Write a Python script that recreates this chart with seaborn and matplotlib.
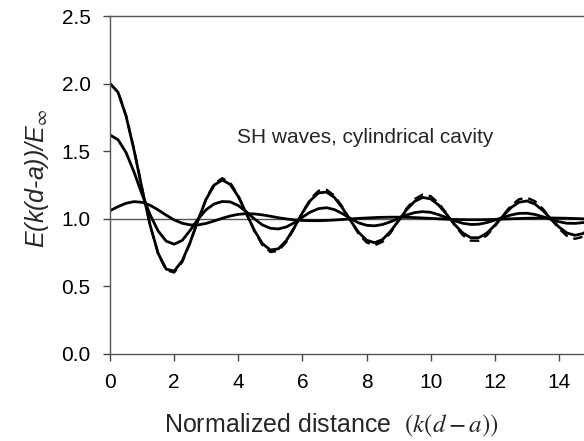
import matplotlib
matplotlib.use("Agg")
import matplotlib.pyplot as plt
import numpy as np
import pandas as pd
import seaborn as sns

sns.set_style("ticks")
plt.rcParams['font.family'] = ['Liberation Sans', 'DejaVu Sans']
plt.rcParams['mathtext.fontset'] = 'stix'

# sample positions along normalized distance k(d-a)
distance = np.arange(0, 15.01, 0.25)

# dashed curve (largest oscillation)
curve_dashed = [2.000, 1.939, 1.765, 1.512, 1.224, 0.952, 0.740, 0.620, 0.603, 0.680,
                0.822, 0.993, 1.151, 1.260, 1.300, 1.266, 1.172, 1.042, 0.910, 0.806,
                0.754, 0.763, 0.829, 0.932, 1.048, 1.147, 1.207, 1.215, 1.171, 1.087,
                0.986, 0.890, 0.825, 0.804, 0.830, 0.897, 0.987, 1.077, 1.146, 1.179,
                1.167, 1.115, 1.037, 0.951, 0.879, 0.838, 0.838, 0.877, 0.944, 1.024,
                1.096, 1.144, 1.156, 1.130, 1.073, 0.999, 0.927, 0.873, 0.852, 0.867,
                0.914]

# solid curve almost on top of the dashed one
curve_solid_big = [2.000, 1.936, 1.760, 1.507, 1.221, 0.953, 0.745, 0.628, 0.613, 0.689,
                   0.827, 0.993, 1.146, 1.250, 1.287, 1.254, 1.164, 1.040, 0.915, 0.817,
                   0.769, 0.778, 0.840, 0.937, 1.045, 1.136, 1.191, 1.198, 1.157, 1.079,
                   0.987, 0.900, 0.842, 0.823, 0.847, 0.908, 0.988, 1.068, 1.129, 1.158,
                   1.147, 1.101, 1.032, 0.957, 0.895, 0.860, 0.860, 0.894, 0.952, 1.020,
                   1.082, 1.122, 1.132, 1.109, 1.061, 0.999, 0.939, 0.895, 0.878, 0.891,
                   0.929]

# solid curve starting at 1.62
curve_solid_mid = [1.620, 1.585, 1.490, 1.345, 1.180, 1.030, 0.910, 0.835, 0.812, 0.840,
                   0.915, 1.000, 1.068, 1.110, 1.128, 1.125, 1.098, 1.052, 1.000, 0.955,
                   0.930, 0.925, 0.940, 0.972, 1.012, 1.050, 1.075, 1.082, 1.068, 1.038,
                   1.002, 0.970, 0.952, 0.948, 0.958, 0.978, 1.003, 1.028, 1.046, 1.053,
                   1.048, 1.030, 1.008, 0.985, 0.967, 0.958, 0.960, 0.972, 0.990, 1.010,
                   1.028, 1.040, 1.041, 1.032, 1.015, 0.996, 0.978, 0.967, 0.966, 0.972,
                   0.984]

# solid curve starting near 1.06
curve_solid_low = [1.060, 1.090, 1.115, 1.127, 1.122, 1.100, 1.066, 1.027, 0.992, 0.967,
                   0.955, 0.955, 0.966, 0.984, 1.004, 1.021, 1.033, 1.038, 1.036, 1.029,
                   1.019, 1.008, 0.999, 0.992, 0.988, 0.986, 0.986, 0.988, 0.991, 0.995,
                   0.999, 1.003, 1.006, 1.009, 1.011, 1.012, 1.012, 1.011, 1.009, 1.006,
                   1.003, 1.000, 0.997, 0.995, 0.994, 0.993, 0.993, 0.994, 0.996, 0.998,
                   1.000, 1.002, 1.004, 1.005, 1.006, 1.006, 1.005, 1.004, 1.002, 1.000,
                   0.998]

x_ticks = [0, 2, 4, 6, 8, 10, 12, 14]
y_ticks = [0.0, 0.5, 1.0, 1.5, 2.0, 2.5]

df = pd.DataFrame({'x': distance, 'dashed': curve_dashed, 'big': curve_solid_big,
                   'mid': curve_solid_mid, 'low': curve_solid_low})

fig = plt.figure(figsize=(5.84, 4.41), dpi=100)
ax = fig.add_axes([0.1884, 0.1973, 0.8116, 0.7664])

ax.axhline(1.0, color='#555555', lw=1.0, zorder=1)
sns.lineplot(data=df, x='x', y='low', color='black', lw=2.0, ax=ax)
sns.lineplot(data=df, x='x', y='mid', color='black', lw=2.0, ax=ax)
sns.lineplot(data=df, x='x', y='big', color='black', lw=2.0, ax=ax)
sns.lineplot(data=df, x='x', y='dashed', color='black', lw=1.7, ax=ax,
             dashes=False, linestyle=(0, (4, 2.5)))

ax.set_xlim(0, 14.78)
ax.set_ylim(0, 2.5)
ax.set_xticks(x_ticks)
ax.set_yticks(y_ticks)
ax.set_yticklabels(['{:.1f}'.format(v) for v in y_ticks])
ax.tick_params(axis='both', labelsize=15, length=5, width=1.0, color='#444444',
               labelcolor='black')
ax.tick_params(axis='x', pad=9)
ax.tick_params(axis='y', pad=9)

for side in ['left', 'bottom', 'top']:
    ax.spines[side].set_color('#555555')
    ax.spines[side].set_linewidth(1.0)
ax.spines['right'].set_visible(False)

ax.text(3.96, 1.6, 'SH waves, cylindrical cavity', fontsize=15, va='center', ha='left')

ax.set_xlabel(r'Normalized distance  $\left(k\left(d-a\right)\right)$', fontsize=18)
ax.xaxis.set_label_coords(0.468, -0.17)
ax.set_ylabel(r'E(k(d-a))/E$_{\infty}$', fontsize=18, style='italic')
ax.yaxis.set_label_coords(-0.125, 0.52)

fig.savefig('out.png', dpi=100)
